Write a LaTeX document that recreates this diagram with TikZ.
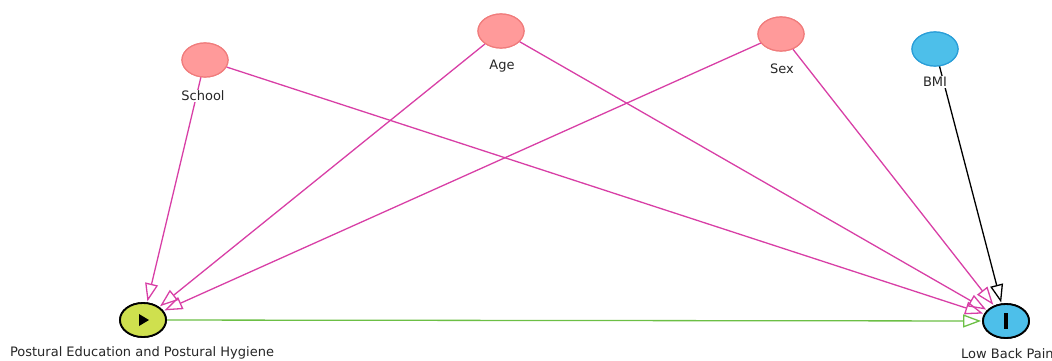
\documentclass[tikz,border=0pt]{standalone}
\usepackage{fontspec}
\setmainfont{DejaVu Sans}
\usetikzlibrary{shapes.geometric,arrows.meta,calc}
\definecolor{pinkfill}{HTML}{FF9A9A}
\definecolor{pinkdraw}{HTML}{F07C7C}
\definecolor{bluefill}{HTML}{4DBFEA}
\definecolor{bluedraw}{HTML}{2A9ED8}
\definecolor{yfill}{HTML}{CFE04E}
\definecolor{edgemag}{HTML}{D83FA6}
\definecolor{edgegreen}{HTML}{6CBF45}
\tikzset{
  var/.style={ellipse, minimum width=46pt, minimum height=34pt, inner sep=0pt, line width=1.2pt},
  cov/.style={var, fill=pinkfill, draw=pinkdraw},
  bmi/.style={var, fill=bluefill, draw=bluedraw},
  expo/.style={var, fill=yfill, draw=black, line width=1.8pt},
  outc/.style={var, fill=bluefill, draw=black, line width=1.8pt},
  lab/.style={fill=white, inner sep=1pt, font=\fontsize{13}{15}\selectfont, text=black!85},
  arr/.style={line width=1.3pt, -{Triangle[open, length=18pt, width=13pt, line width=1.3pt]}, shorten >=1pt},
  magarr/.style={arr, draw=edgemag},
}
\begin{document}
\begin{tikzpicture}[x=1pt, y=-1pt]
\useasboundingbox (0,0) rectangle (1052,360);
% nodes
\node[cov] (school) at (205,60) {};
\node[cov] (age) at (501,31) {};
\node[cov] (sex) at (781,34) {};
\node[bmi] (bmi) at (935,49) {};
\node[expo] (pe) at (143,320) {};
\node[outc] (lbp) at (1006,321) {};
% edges
\draw[magarr] (school) -- (pe);
\draw[magarr] (school) -- (lbp);
\draw[magarr] (age) -- (pe);
\draw[magarr] (age) -- (lbp);
\draw[magarr] (sex) -- (pe);
\draw[magarr] (sex) -- (lbp);
\draw[arr, draw=black] (bmi) -- (lbp);
\draw[arr, draw=edgegreen] (pe) -- (lbp);
% redraw nodes on top
\node[cov] at (school) {};
\node[cov] at (age) {};
\node[cov] at (sex) {};
\node[bmi] at (bmi) {};
\node[expo] at (pe) {};
\node[outc] at (lbp) {};
% markers
\fill[black] ($(pe)+(-4,-6)$) -- ++(0,12) -- ++(10,-6) -- cycle;
\fill[black] ($(lbp)+(-2,-8)$) rectangle ($(lbp)+(2,8)$);
% labels
\node[lab] (lschool) at (203,96) {School};
\node[lab] (lage) at (502,66) {Age};
\node[lab] (lsex) at (782,69) {Sex};
\node[lab] (lbmi) at (935,82) {BMI};
\node[lab] (lpe) at (142,353) {Postural Education and Postural Hygiene};
\node[lab, anchor=west] (llbp) at (960,354) {Low Back Pain};
\end{tikzpicture}
\end{document}
